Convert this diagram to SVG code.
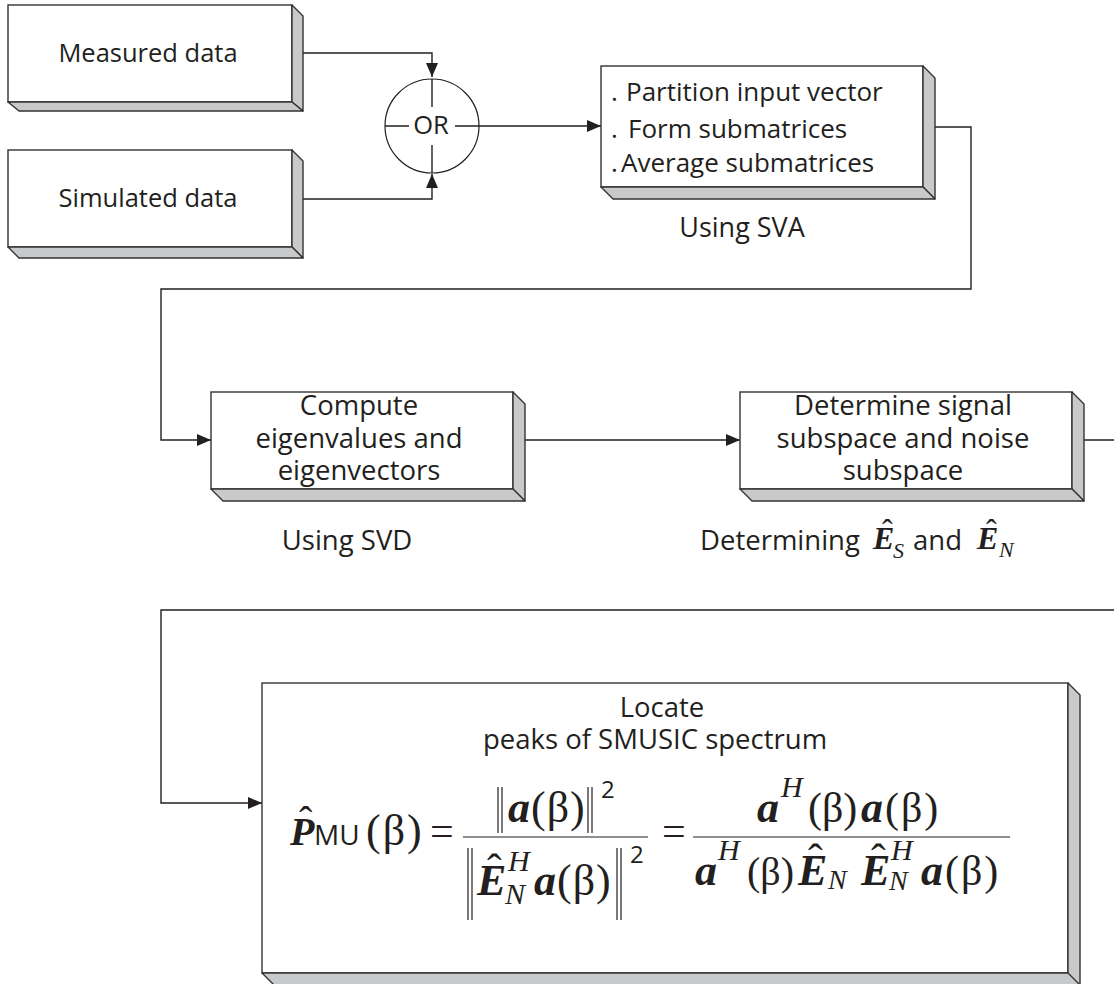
<svg xmlns="http://www.w3.org/2000/svg" width="1114" height="984" viewBox="0 0 1114 984">
<style>
.front{fill:#fff;stroke:#333;stroke-width:1.4}
.face{fill:#c8c9cb;stroke:#333;stroke-width:1.4;stroke-linejoin:round}
.conn{fill:none;stroke:#231f20;stroke-width:1.4}
.t{font-family:"Open Sans","Liberation Sans",sans-serif;fill:#231f20}
.c{text-anchor:middle}
.m{font-family:"Liberation Serif",serif;fill:#231f20}
.bi{font-weight:bold;font-style:italic}
.it{font-style:italic}
.nb{stroke:#231f20;stroke-width:1.2}
</style>
<defs>
<marker id="arr" markerUnits="userSpaceOnUse" markerWidth="14" markerHeight="12" refX="14" refY="6" orient="auto">
<path d="M0,0 L14,6 L0,12 z" fill="#231f20"/>
</marker>
</defs>
<rect width="1114" height="984" fill="#fff"/>

<g id="connectors">
<path class="conn" d="M303,53 H432 V77" marker-end="url(#arr)"/>
<path class="conn" d="M303,199 H432 V174" marker-end="url(#arr)"/>
<path class="conn" d="M479,126 H601" marker-end="url(#arr)"/>
<path class="conn" d="M935,127 H971 V289 H161 V440 H211" marker-end="url(#arr)"/>
<path class="conn" d="M525,440 H740" marker-end="url(#arr)"/>
<path class="conn" d="M1084,440 H1130 V610 H161 V803 H262" marker-end="url(#arr)"/>
</g>

<g id="measured">
<rect class="front" x="8" y="5" width="284" height="97"/>
<path class="face" d="M292,5 L303,16 L303,111 L292,102 Z"/>
<path class="face" d="M8,102 L19,111 L303,111 L292,102 Z"/>
<text class="t c" x="148" y="62" font-size="25.5">Measured data</text>
</g>

<g id="simulated">
<rect class="front" x="8" y="150" width="284" height="97"/>
<path class="face" d="M292,150 L303,161 L303,258 L292,247 Z"/>
<path class="face" d="M8,247 L19,258 L303,258 L292,247 Z"/>
<text class="t c" x="148" y="207" font-size="25.5">Simulated data</text>
</g>

<g id="or">
<circle cx="432" cy="126" r="47" fill="#fff" stroke="#231f20" stroke-width="1.2"/>
<path class="conn" d="M385,126 H409 M455,126 H479 M432,79 V107 M432,145 V173"/>
<text class="t c" x="431" y="134" font-size="25.5">OR</text>
</g>

<g id="sva">
<rect class="front" x="601" y="66" width="322" height="121"/>
<path class="face" d="M923,66 L935,78 L935,199 L923,187 Z"/>
<path class="face" d="M601,187 L613,199 L935,199 L923,187 Z"/>
<text class="t" y="101" font-size="26"><tspan x="611">.</tspan><tspan x="626">Partition input vector</tspan></text>
<text class="t" y="138" font-size="26"><tspan x="611">.</tspan><tspan x="628">Form submatrices</tspan></text>
<text class="t" y="172" font-size="26"><tspan x="611">.</tspan><tspan x="621">Average submatrices</tspan></text>
<text class="t c" x="742" y="237" font-size="27">Using SVA</text>
</g>

<g id="compute">
<rect class="front" x="211" y="392" width="302" height="97"/>
<path class="face" d="M513,392 L525,404 L525,501 L513,489 Z"/>
<path class="face" d="M211,489 L223,501 L525,501 L513,489 Z"/>
<text class="t c" x="359" y="415" font-size="27.5">Compute</text>
<text class="t c" x="359" y="448" font-size="27.5">eigenvalues and</text>
<text class="t c" x="359" y="480" font-size="27.5">eigenvectors</text>
<text class="t c" x="347" y="550" font-size="27.5">Using SVD</text>
</g>

<g id="determine">
<rect class="front" x="740" y="392" width="332" height="97"/>
<path class="face" d="M1072,392 L1084,404 L1084,501 L1072,489 Z"/>
<path class="face" d="M740,489 L752,501 L1084,501 L1072,489 Z"/>
<text class="t c" x="903" y="415" font-size="27.5">Determine signal</text>
<text class="t c" x="903" y="448" font-size="27.5">subspace and noise</text>
<text class="t c" x="903" y="480" font-size="27.5">subspace</text>
<text class="t" x="700" y="550" font-size="27.5">Determining</text>
<text class="m bi" x="873" y="549" font-size="32">E</text>
<text class="m" x="882" y="541" font-size="32">ˆ</text>
<text class="m it" x="893" y="558" font-size="22">S</text>
<text class="t" x="913" y="550" font-size="27.5">and</text>
<text class="m bi" x="977" y="549" font-size="32">E</text>
<text class="m" x="986" y="541" font-size="32">ˆ</text>
<text class="m it" x="999" y="557" font-size="22">N</text>
</g>

<g id="smusic">
<rect class="front" x="262" y="683" width="806" height="290"/>
<path class="face" d="M1068,683 L1080,695 L1080,995 L1068,973 Z"/>
<path class="face" d="M262,973 L274,985 L1080,985 L1068,973 Z"/>
<text class="t c" x="662" y="717" font-size="27.5">Locate</text>
<text class="t c" x="655" y="749" font-size="27.5">peaks of SMUSIC spectrum</text>

<text class="m bi" x="290" y="845" font-size="40">P</text>
<text class="m" x="299" y="834" font-size="40">ˆ</text>
<text class="t" x="314" y="845" font-size="28">MU</text>
<text class="m" x="366" y="845" font-size="44" letter-spacing="2">(β)</text>
<text class="m" x="430" y="845" font-size="42">=</text>
<line class="nb" x1="463" y1="837" x2="648" y2="837"/>
<line class="nb" x1="498" y1="787" x2="498" y2="833"/>
<line class="nb" x1="502" y1="787" x2="502" y2="833"/>
<text class="m bi" x="508" y="822" font-size="44">a</text>
<text class="m" x="531" y="822" font-size="44" letter-spacing="1">(β)</text>
<line class="nb" x1="588" y1="787" x2="588" y2="833"/>
<line class="nb" x1="592" y1="787" x2="592" y2="833"/>
<text class="t" x="601" y="798" font-size="24">2</text>

<line class="nb" x1="468" y1="848" x2="468" y2="920"/>
<line class="nb" x1="472" y1="848" x2="472" y2="920"/>
<text class="m bi" x="477" y="895" font-size="44">E</text>
<text class="m" x="487" y="884" font-size="44">ˆ</text>
<text class="m it" x="508" y="871" font-size="30">H</text>
<text class="m it" x="505" y="904" font-size="30">N</text>
<text class="m bi" x="534" y="895" font-size="44">a</text>
<text class="m" x="557" y="895" font-size="44" letter-spacing="1">(β)</text>
<line class="nb" x1="617" y1="848" x2="617" y2="920"/>
<line class="nb" x1="621" y1="848" x2="621" y2="920"/>
<text class="t" x="630" y="863" font-size="24">2</text>

<text class="m" x="662" y="845" font-size="42">=</text>
<line class="nb" x1="693" y1="837" x2="1010" y2="837"/>
<text class="m bi" x="757" y="822" font-size="44">a</text>
<text class="m it" x="781" y="797" font-size="30">H</text>
<text class="m" x="808" y="822" font-size="42">(β)</text>
<text class="m bi" x="861" y="822" font-size="44">a</text>
<text class="m" x="885" y="822" font-size="42" letter-spacing="2">(β)</text>

<text class="m bi" x="695" y="885" font-size="44">a</text>
<text class="m it" x="718" y="860" font-size="30">H</text>
<text class="m" x="747" y="885" font-size="40">(β)</text>
<text class="m bi" x="798" y="885" font-size="44">E</text>
<text class="m" x="808" y="874" font-size="44">ˆ</text>
<text class="m it" x="828" y="889" font-size="28">N</text>
<text class="m bi" x="861" y="885" font-size="44">E</text>
<text class="m" x="871" y="874" font-size="44">ˆ</text>
<text class="m it" x="891" y="860" font-size="30">H</text>
<text class="m it" x="889" y="890" font-size="28">N</text>
<text class="m bi" x="921" y="885" font-size="44">a</text>
<text class="m" x="945" y="885" font-size="42" letter-spacing="2">(β)</text>
</g>
</svg>
